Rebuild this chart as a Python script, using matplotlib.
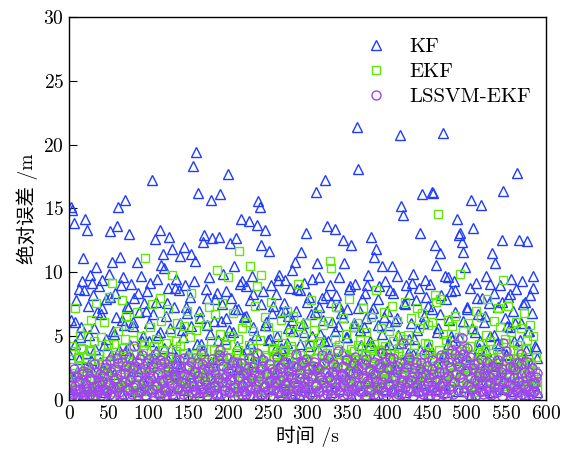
import numpy as np
import matplotlib.pyplot as plt

plt.rcParams['font.family'] = ['cmr10', 'Noto Sans CJK SC']
plt.rcParams['axes.formatter.use_mathtext'] = True
plt.rcParams['mathtext.fontset'] = 'cm'

# sampling times (s): even and odd seconds
t_even = np.arange(0, 590, 2)
t_odd = np.arange(1, 590, 2)

kf_even = [
    3.6, 15.1, 14.9, 13.9, 6.1, 2.2, 8.7, 4.9, 9.3, 11.1,
    14.2, 13.3, 7.4, 9.8, 3.1, 8.2, 5.6, 10.4, 1.4, 8.9,
    6.7, 9.4, 4.3, 7.9, 2.6, 9.9, 13.2, 10.8, 5.2, 8.4,
    13.6, 15.1, 11.2, 6.3, 9.6, 15.7, 3.9, 7.2, 13.0, 9.1,
    5.8, 8.0, 2.3, 10.8, 6.9, 9.7, 4.6, 7.6, 1.2, 8.5,
    6.0, 9.2, 17.2, 3.4, 12.6, 7.7, 5.1, 13.3, 10.6, 11.4,
    10.3, 6.6, 8.8, 12.8, 4.1, 11.8, 7.3, 9.5, 2.9, 8.6,
    11.3, 5.5, 12.0, 9.0, 6.8, 3.7, 8.1, 11.4, 18.3, 10.9,
    19.4, 16.2, 7.0, 4.4, 12.4, 12.9, 8.7, 5.9, 9.6, 15.7,
    12.7, 6.2, 3.2, 8.4, 12.8, 16.1, 7.5, 9.9, 4.8, 6.4,
    17.7, 12.3, 8.0, 5.3, 10.5, 12.7, 7.1, 2.7, 14.2, 9.3,
    6.5, 8.9, 4.0, 14.0, 7.8, 9.7, 5.7, 3.5, 13.7, 15.6,
    15.1, 12.1, 8.5, 13.3, 6.1, 4.7, 11.7, 9.0, 7.4, 2.0,
    8.3, 5.0, 9.8, 6.9, 3.8, 7.6, 9.4, 4.5, 6.6, 8.8,
    10.2, 5.4, 10.8, 7.0, 3.0, 8.6, 11.6, 6.0, 9.2, 13.1,
    4.2, 8.1, 6.7, 9.5, 2.5, 16.3, 10.7, 7.3, 5.2, 8.0,
    6.3, 17.2, 13.6, 4.6, 9.0, 7.7, 3.3, 13.4, 8.2, 5.8,
    9.6, 6.8, 12.5, 10.75, 4.9, 7.1, 8.7, 12.1, 2.8, 6.0,
    9.1, 21.4, 18.1, 5.5, 7.9, 3.6, 8.4, 6.4, 9.8, 4.3,
    12.8, 7.2, 11.2, 11.8, 5.9, 8.9, 3.9, 10.5, 6.5, 9.3,
    7.0, 4.4, 8.6, 10.5, 2.4, 6.2, 9.7, 5.1, 20.75, 15.2,
    14.5, 7.5, 9.0, 3.7, 8.3, 6.0, 9.9, 4.8, 7.8, 2.1,
    8.8, 13.05, 16.1, 6.6, 9.4, 4.0, 7.4, 9.1, 16.3, 16.2,
    12.1, 10.6, 5.6, 11.5, 8.2, 20.9, 3.4, 7.9, 9.6, 6.3,
    8.5, 4.7, 9.3, 6.9, 14.2, 12.9, 13.05, 12.4, 11.6, 10.4,
    7.1, 3.0, 8.8, 15.7, 13.5, 5.3, 9.2, 6.7, 4.1, 15.3,
    8.0, 6.1, 9.7, 2.9, 7.6, 5.0, 11.5, 8.4, 10.7, 4.5,
    7.3, 9.0, 12.5, 16.4, 6.4, 3.5, 8.1, 5.7, 9.5, 7.0,
    4.6, 8.7, 17.75, 12.5, 6.0, 9.3, 3.2, 7.7, 12.45, 5.4,
    8.2, 6.8, 9.7, 4.2, 3.3,
]

kf_odd = [
    2.1, 6.3, 0.9, 4.4, 7.8, 1.6, 3.2, 5.7, 0.5, 8.6,
    3.7, 1.2, 5.1, 2.6, 9.2, 0.8, 4.0, 6.9, 1.9, 3.0,
    7.2, 2.4, 0.6, 4.8, 1.4, 8.1, 3.5, 5.4, 2.0, 6.5,
    1.1, 3.9, 9.0, 0.4, 5.9, 2.8, 7.4, 1.7, 4.3, 3.3,
    6.1, 0.7, 2.5, 8.4, 3.6, 1.3, 5.0, 2.2, 7.0, 0.9,
    4.6, 2.9, 6.7, 1.5, 3.8, 9.5, 0.6, 5.3, 2.3, 4.1,
    1.0, 7.6, 3.1, 5.6, 2.0, 0.5, 8.8, 3.4, 1.8, 6.0,
    2.7, 4.9, 0.8, 7.3, 1.4, 3.7, 5.8, 2.1, 9.3, 1.2,
    4.4, 0.6, 6.4, 2.6, 3.9, 1.7, 8.0, 0.9, 5.2, 3.0,
    1.5, 7.9, 2.3, 4.7, 0.4, 6.2, 3.5, 1.1, 8.5, 2.8,
    5.5, 1.9, 3.2, 0.7, 7.1, 4.2, 2.4, 9.1, 1.3, 3.6,
    0.8, 6.6, 2.0, 4.5, 1.6, 8.3, 3.0, 5.1, 0.5, 2.7,
    7.5, 3.4, 1.2, 5.9, 2.2, 0.9, 4.8, 6.8, 1.8, 3.9,
    2.5, 9.4, 0.6, 4.1, 3.3, 7.0, 1.4, 5.6, 2.9, 0.8,
    6.3, 1.7, 3.7, 8.7, 0.5, 4.4, 2.1, 5.3, 1.0, 7.7,
    3.1, 0.7, 5.0, 2.4, 6.9, 1.5, 4.0, 9.6, 2.8, 1.1,
    4.7, 8.2, 1.9, 3.5, 0.6, 6.1, 2.3, 5.4, 1.3, 7.4,
    0.9, 3.8, 6.5, 2.0, 4.9, 1.6, 8.9, 0.4, 3.2, 5.8,
    2.6, 7.2, 1.2, 4.3, 0.8, 5.7, 3.0, 9.0, 1.7, 4.6,
    6.8, 2.2, 0.5, 3.6, 7.9, 1.4, 5.2, 2.7, 0.9, 4.1,
    1.8, 5.9, 3.3, 8.4, 0.7, 2.5, 6.4, 1.1, 4.5, 3.0,
    7.6, 0.6, 2.9, 4.8, 1.5, 9.2, 3.6, 0.8, 5.5, 2.1,
    3.9, 1.3, 6.0, 2.3, 8.1, 0.5, 4.2, 1.9, 7.1, 3.4,
    0.9, 5.3, 2.6, 6.7, 1.2, 3.7, 9.7, 0.6, 4.4, 2.0,
    5.0, 1.6, 8.6, 3.1, 0.7, 4.9, 2.4, 6.2, 1.0, 3.5,
    7.3, 2.8, 0.5, 5.6, 1.8, 3.2, 8.0, 1.3, 4.6, 2.2,
    0.8, 6.6, 3.8, 1.5, 9.1, 2.7, 0.6, 5.1, 3.3, 1.9,
    4.3, 2.0, 7.7, 0.9, 3.6, 5.8, 1.4, 8.3, 2.5, 0.7,
    6.0, 3.0, 1.1, 4.7, 2.2, 7.5, 0.5, 3.9, 5.4, 1.6,
    2.9, 8.8, 1.2, 4.1, 0.6,
]

ekf_even = [
    1.5, 3.8, 4.2, 2.1, 7.2, 0.8, 3.3, 5.1, 1.9, 4.0,
    2.7, 5.6, 0.6, 3.9, 6.3, 2.2, 4.6, 7.6, 1.3, 3.5,
    4.9, 2.4, 6.1, 1.0, 3.7, 8.1, 2.9, 9.2, 4.4, 0.9,
    3.2, 5.4, 2.0, 7.8, 4.1, 1.6, 6.6, 3.0, 5.9, 2.5,
    4.7, 1.2, 3.6, 6.9, 2.3, 5.0, 0.7, 4.3, 11.1, 3.1,
    2.0, 5.7, 7.5, 3.4, 1.1, 4.8, 2.6, 8.0, 6.2, 3.9,
    0.9, 4.5, 7.1, 2.8, 5.3, 9.8, 1.7, 3.8, 6.0, 2.1,
    4.2, 1.4, 5.8, 3.3, 7.0, 2.5, 4.9, 8.4, 1.0, 3.6,
    5.5, 2.2, 6.4, 4.0, 0.8, 3.1, 5.9, 2.7, 7.3, 4.6,
    1.8, 3.9, 6.7, 10.2, 2.4, 5.2, 7.6, 3.5, 1.3, 4.4,
    9.6, 2.9, 5.0, 6.8, 1.5, 3.7, 4.8, 11.7, 2.3, 5.6,
    3.2, 6.1, 0.9, 4.3, 10.5, 2.6, 5.4, 7.4, 8.9, 3.0,
    4.7, 9.8, 1.9, 6.5, 3.4, 5.7, 2.2, 7.7, 4.1, 1.2,
    3.6, 5.1, 2.8, 6.3, 4.5, 1.6, 3.9, 7.0, 2.4, 5.3,
    4.0, 6.6, 1.1, 3.4, 9.1, 5.8, 2.7, 4.9, 3.1, 6.0,
    2.5, 4.4, 7.8, 1.7, 5.5, 3.3, 6.7, 2.0, 4.6, 3.8,
    5.9, 1.4, 3.7, 6.2, 10.9, 10.3, 2.6, 4.8, 7.3, 3.0,
    4.3, 2.1, 6.4, 3.5, 5.2, 1.3, 7.9, 4.0, 2.8, 5.7,
    3.1, 6.0, 1.8, 4.7, 2.4, 7.2, 3.6, 5.3, 0.9, 4.1,
    6.5, 2.9, 4.4, 8.6, 1.6, 3.8, 5.6, 2.2, 6.9, 4.2,
    3.0, 5.4, 1.2, 7.4, 4.6, 2.5, 6.2, 3.7, 5.0, 1.9,
    4.8, 7.7, 2.7, 5.1, 3.3, 6.4, 1.5, 4.3, 2.9, 7.2,
    5.6, 3.2, 6.8, 1.8, 4.5, 2.4, 5.9, 3.6, 6.1, 2.0,
    8.2, 7.7, 14.6, 7.9, 3.4, 5.2, 1.4, 4.7, 6.3, 2.6,
    4.0, 5.8, 2.2, 6.6, 3.1, 4.9, 9.9, 1.7, 5.4, 3.8,
    2.6, 6.0, 4.2, 1.3, 5.5, 3.0, 7.0, 2.1, 4.4, 6.5,
    3.6, 1.9, 5.1, 7.9, 2.8, 4.6, 3.3, 6.2, 1.5, 4.0,
    7.2, 5.7, 2.4, 9.4, 4.8, 3.1, 7.4, 1.8, 5.3, 3.9,
    2.6, 6.1, 4.3, 1.2, 5.6, 3.4, 6.8, 2.0, 4.7, 3.0,
    5.9, 1.4, 5.0, 2.3, 1.4,
]

ekf_odd = [
    1.2, 0.5, 2.6, 1.8, 0.9, 3.4, 1.4, 4.1, 0.7, 2.2,
    2.9, 1.0, 1.7, 3.8, 0.4, 1.5, 2.5, 0.8, 3.2, 1.9,
    0.9, 2.8, 1.3, 2.0, 4.4, 0.6, 2.3, 1.1, 3.0, 3.5,
    1.6, 0.5, 3.3, 1.4, 2.4, 4.8, 1.2, 2.1, 0.8, 2.7,
    3.6, 1.3, 1.9, 0.4, 2.6, 1.0, 3.9, 2.2, 1.5, 0.7,
    2.0, 3.1, 0.9, 4.2, 1.4, 1.8, 2.7, 0.6, 3.5, 1.1,
    2.5, 1.5, 3.2, 2.0, 0.7, 2.9, 1.2, 4.6, 1.7, 0.9,
    1.3, 3.7, 1.8, 0.8, 2.6, 1.6, 3.4, 2.2, 0.4, 2.8,
    3.3, 0.8, 2.3, 1.4, 4.0, 1.9, 0.6, 3.0, 1.5, 2.1,
    0.9, 2.7, 1.2, 3.6, 2.0, 3.1, 1.0, 1.8, 4.3, 0.7,
    2.4, 3.4, 0.6, 1.6, 2.9, 1.2, 3.9, 2.1, 0.5, 2.5,
    1.4, 2.2, 3.2, 1.0, 2.7, 4.1, 1.5, 1.9, 3.6, 0.8,
    3.0, 1.1, 2.1, 3.5, 0.6, 1.6, 2.5, 3.9, 1.3, 2.3,
    0.9, 2.8, 1.5, 2.3, 3.7, 0.6, 1.9, 3.1, 1.2, 4.2,
    2.0, 0.9, 2.9, 1.4, 1.8, 3.5, 0.7, 2.4, 1.6, 3.2,
    1.3, 3.8, 1.7, 0.5, 2.6, 1.4, 4.5, 2.2, 1.0, 3.0,
    3.4, 1.1, 2.1, 2.8, 0.8, 3.3, 1.6, 2.4, 4.0, 1.3,
    0.7, 2.6, 1.5, 3.6, 2.0, 0.9, 3.0, 1.1, 2.2, 3.8,
    1.7, 4.3, 0.9, 2.3, 3.1, 1.3, 3.5, 0.6, 2.5, 1.6,
    2.8, 1.2, 3.3, 2.0, 0.8, 3.9, 1.7, 2.7, 1.0, 2.3,
    1.5, 3.1, 1.9, 0.6, 3.6, 1.6, 2.5, 4.1, 1.2, 2.1,
    3.2, 0.9, 2.4, 2.9, 1.4, 1.8, 3.7, 1.0, 2.6, 1.7,
    2.2, 3.4, 1.1, 3.0, 0.7, 4.4, 2.0, 1.5, 3.3, 2.5,
    1.0, 2.3, 3.9, 1.4, 2.8, 1.8, 0.9, 3.6, 2.1, 1.3,
    3.1, 1.6, 2.2, 3.8, 0.8, 2.6, 1.3, 2.4, 4.2, 1.0,
    1.9, 2.9, 1.1, 3.5, 2.3, 0.6, 3.1, 1.7, 2.0, 3.3,
    1.4, 3.9, 2.2, 0.9, 2.8, 1.6, 3.7, 2.4, 1.2, 2.7,
    3.5, 2.0, 1.1, 2.5, 4.5, 1.5, 2.1, 3.2, 0.9, 3.0,
    1.3, 2.6, 3.8, 2.0, 0.7, 3.1, 1.6, 4.0, 2.3, 1.1,
    2.8, 1.8, 1.4, 3.4, 0.9,
]

lssvm_even = [
    0.6, 1.8, 0.3, 2.4, 1.1, 0.2, 1.5, 0.9, 2.0, 0.4,
    1.3, 0.7, 2.6, 0.5, 1.7, 0.3, 1.0, 2.2, 0.8, 1.4,
    0.4, 1.9, 0.9, 2.8, 0.6, 1.2, 3.1, 0.2, 1.6, 2.4,
    3.3, 1.0, 2.0, 0.5, 3.6, 1.4, 2.7, 0.8, 3.4, 1.8,
    2.5, 4.2, 1.2, 3.0, 0.6, 2.2, 3.5, 1.5, 0.4, 2.9,
    3.2, 1.7, 0.9, 2.6, 3.6, 1.1, 2.0, 0.3, 2.8, 1.4,
    3.0, 0.7, 2.3, 1.6, 3.4, 0.5, 1.9, 2.7, 1.0, 3.1,
    2.1, 0.8, 3.3, 1.3, 2.5, 0.4, 1.8, 3.0, 1.1, 2.2,
    0.6, 2.9, 1.5, 3.6, 0.9, 2.4, 1.2, 0.3, 2.6, 1.7,
    3.2, 1.0, 2.0, 0.5, 3.5, 3.9, 1.4, 2.7, 0.8, 1.9,
    2.3, 0.6, 1.6, 3.0, 1.0, 2.5, 0.3, 1.8, 2.9, 1.2,
    0.7, 2.1, 1.4, 3.3, 0.4, 1.7, 2.6, 0.9, 3.7, 1.5,
    2.4, 0.5, 3.1, 1.1, 2.0, 0.8, 2.8, 1.6, 0.3, 2.2,
    1.3, 3.4, 0.6, 2.5, 1.9, 0.9, 3.0, 1.4, 2.3, 0.5,
    1.8, 2.7, 0.4, 3.6, 1.2, 2.1, 0.7, 2.9, 1.5, 3.2,
    0.9, 2.4, 1.7, 0.3, 3.0, 1.1, 2.6, 0.6, 1.9, 3.5,
    1.4, 2.2, 0.8, 3.3, 1.6, 0.4, 2.8, 1.0, 2.0, 3.8,
    0.6, 1.9, 2.7, 1.2, 3.1, 0.5, 2.3, 1.5, 0.9, 2.9,
    3.4, 1.1, 2.0, 0.7, 2.6, 1.7, 0.3, 3.2, 1.3, 2.4,
    0.8, 2.1, 3.0, 1.5, 0.4, 2.8, 1.0, 3.7, 1.9, 0.6,
    2.5, 1.2, 3.3, 0.7, 3.3, 1.8, 2.2, 0.5, 2.9, 1.4,
    4.5, 1.0, 2.6, 0.8, 3.4, 1.6, 0.3, 2.1, 3.0, 1.2,
    0.6, 2.4, 1.8, 3.6, 0.9, 2.7, 1.3, 0.4, 3.1, 2.0,
    1.5, 0.7, 2.8, 1.1, 3.5, 0.5, 2.2, 1.7, 3.0, 0.9,
    2.6, 3.9, 1.4, 4.4, 2.9, 3.3, 1.8, 4.85, 3.6, 2.3,
    4.1, 1.2, 3.4, 0.8, 2.5, 1.6, 0.4, 2.9, 1.9, 3.2,
    0.7, 2.1, 1.3, 3.0, 0.5, 1.8, 2.7, 1.0, 2.3, 0.6,
    3.1, 1.5, 2.4, 4.5, 0.9, 2.0, 3.3, 1.2, 0.3, 2.6,
    1.7, 0.8, 2.9, 1.4, 3.6, 0.5, 2.2, 1.1, 3.0, 0.7,
    1.9, 2.5, 0.6, 1.3, 2.1,
]

lssvm_odd = [
    0.3, 1.2, 0.5, 0.8, 1.9, 0.2, 1.4, 0.6, 2.3, 0.4,
    0.9, 2.1, 0.3, 1.6, 0.7, 2.8, 0.4, 1.1, 0.6, 2.0,
    1.5, 0.3, 2.5, 0.8, 1.3, 0.5, 2.2, 1.0, 0.3, 1.7,
    2.9, 0.6, 1.2, 3.0, 0.4, 2.1, 0.9, 2.6, 1.6, 0.5,
    1.0, 2.7, 0.4, 1.8, 3.2, 0.7, 1.3, 2.4, 0.3, 1.5,
    2.2, 0.6, 1.9, 0.3, 2.9, 1.1, 0.5, 3.1, 1.6, 0.8,
    0.4, 1.7, 2.6, 0.7, 1.2, 2.3, 0.3, 1.8, 0.9, 2.5,
    1.4, 0.5, 2.0, 1.0, 0.3, 2.7, 1.3, 0.6, 2.2, 0.8,
    1.9, 0.3, 1.1, 2.8, 0.6, 1.5, 0.4, 2.4, 1.0, 0.7,
    2.6, 1.2, 0.4, 1.7, 3.1, 0.5, 2.0, 0.8, 1.4, 3.3,
    0.6, 1.6, 2.3, 0.3, 1.0, 2.9, 0.7, 1.8, 0.4, 2.1,
    1.3, 0.5, 2.5, 0.9, 1.7, 0.3, 2.2, 1.1, 0.6, 1.9,
    0.4, 2.7, 1.0, 0.6, 2.0, 1.5, 0.3, 2.4, 0.8, 1.4,
    2.1, 0.7, 1.6, 0.4, 2.8, 1.2, 0.5, 1.9, 0.9, 2.3,
    0.3, 1.3, 2.6, 0.8, 1.7, 0.4, 3.0, 1.1, 0.6, 2.0,
    1.5, 0.5, 1.9, 2.7, 0.3, 1.2, 0.7, 2.4, 1.6, 0.4,
    2.9, 1.0, 0.5, 1.8, 0.8, 2.2, 0.3, 1.4, 2.6, 0.6,
    1.1, 2.0, 0.4, 1.6, 3.2, 0.7, 1.3, 0.5, 2.1, 0.9,
    0.3, 2.5, 1.2, 0.6, 1.8, 2.8, 0.4, 1.5, 0.8, 2.3,
    1.7, 0.5, 2.0, 1.0, 0.3, 2.6, 1.4, 0.7, 3.0, 0.4,
    1.2, 2.4, 0.6, 1.9, 0.9, 0.3, 2.7, 1.1, 0.5, 1.6,
    2.2, 0.4, 1.4, 3.1, 0.7, 1.8, 0.3, 2.5, 1.0, 0.6,
    1.5, 2.9, 0.5, 1.2, 2.0, 0.3, 1.7, 0.8, 2.4, 1.0,
    0.4, 1.6, 2.2, 0.6, 1.3, 3.4, 0.9, 0.3, 1.9, 2.6,
    1.1, 0.5, 3.6, 2.0, 0.8, 2.7, 4.0, 1.4, 0.6, 3.1,
    2.3, 0.4, 1.7, 0.9, 2.8, 0.3, 1.5, 2.1, 0.7, 1.2,
    0.5, 1.9, 0.8, 2.5, 1.3, 0.4, 2.0, 0.6, 1.6, 2.9,
    1.0, 2.2, 0.3, 1.4, 3.8, 0.7, 1.8, 2.6, 0.5, 1.1,
    2.4, 0.6, 1.5, 0.3, 2.8, 1.2, 0.4, 1.9, 0.9, 2.2,
    0.5, 1.3, 0.7, 1.8, 0.4,
]

t = np.concatenate([t_even, t_odd])
kf = np.concatenate([kf_even, kf_odd])
ekf = np.concatenate([ekf_even, ekf_odd])
lssvm_ekf = np.concatenate([lssvm_even, lssvm_odd])

fig = plt.figure(figsize=(5.63, 4.57), dpi=100)
ax = fig.add_axes([0.1226, 0.1247, 0.8474, 0.8383])

ax.plot(t, kf, ls='none', marker='^', ms=7, mfc='none', mec='#1f3cff', mew=1.0, label='KF')
ax.plot(t, ekf, ls='none', marker='s', ms=5.5, mfc='none', mec='#5fe80a', mew=1.0, label='EKF')
ax.plot(t, lssvm_ekf, ls='none', marker='o', ms=6.5, mfc='none', mec='#a045ee', mew=1.0, label='LSSVM-EKF')

ax.set_xlim(0, 600)
ax.set_ylim(0, 30)
ax.set_xticks(np.arange(0, 601, 50))
ax.set_yticks(np.arange(0, 31, 5))
ax.tick_params(direction='in', length=6, width=0.8, labelsize=14, top=False, right=False)
for s in ax.spines.values():
    s.set_linewidth(1.0)

ax.set_xlabel('时间 /s', fontsize=14, labelpad=2)
ax.set_ylabel('绝对误差 /m', fontsize=14, labelpad=4)

ax.legend(loc='upper right', frameon=False, fontsize=15, handletextpad=0.6,
          labelspacing=0.3, bbox_to_anchor=(1.007, 0.995))

fig.savefig('out.png', dpi=100)
